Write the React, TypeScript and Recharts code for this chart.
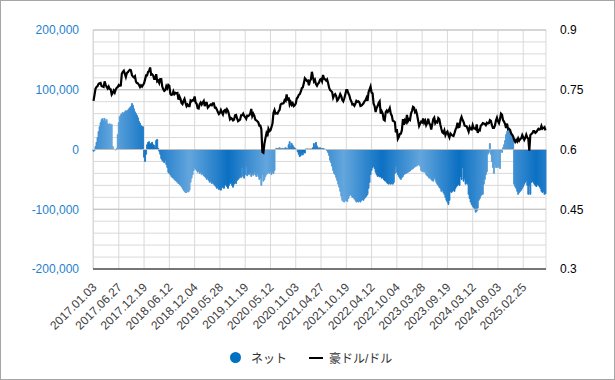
import {
  ComposedChart,
  Bar,
  Line,
  XAxis,
  YAxis,
  CartesianGrid,
  ReferenceLine,
} from "recharts";

// weekly AUD/USD close, 2017.01.03 onward (rows of 25 weeks = one tick interval)
const audUsd = [
  0.722, 0.737, 0.753, 0.757, 0.759, 0.765, 0.766, 0.767, 0.759, 0.758, 0.757, 0.771, 0.763, 0.757, 0.753, 0.758, 0.752, 0.751, 0.738, 0.742, 0.748, 0.743, 0.751, 0.755, 0.757,
  0.762, 0.76, 0.761, 0.79, 0.795, 0.798, 0.79, 0.782, 0.792, 0.794, 0.798, 0.8, 0.799, 0.787, 0.783, 0.781, 0.784, 0.77, 0.767, 0.766, 0.762, 0.757, 0.761, 0.758, 0.762,
  0.766, 0.776, 0.786, 0.786, 0.795, 0.797, 0.806, 0.788, 0.789, 0.786, 0.777, 0.777, 0.789, 0.771, 0.773, 0.767, 0.777, 0.777, 0.758, 0.751, 0.747, 0.749, 0.759, 0.754, 0.762,
  0.76, 0.74, 0.737, 0.738, 0.746, 0.739, 0.742, 0.741, 0.742, 0.725, 0.733, 0.727, 0.717, 0.714, 0.722, 0.727, 0.717, 0.709, 0.713, 0.709, 0.709, 0.723, 0.721, 0.724, 0.723,
  0.733, 0.718, 0.715, 0.704, 0.703, 0.714, 0.718, 0.713, 0.718, 0.722, 0.709, 0.717, 0.717, 0.705, 0.708, 0.711, 0.713, 0.711, 0.716, 0.716, 0.705, 0.705, 0.7, 0.694, 0.689,
  0.692, 0.699, 0.693, 0.688, 0.697, 0.699, 0.694, 0.701, 0.697, 0.688, 0.676, 0.679, 0.677, 0.673, 0.675, 0.686, 0.687, 0.678, 0.671, 0.673, 0.675, 0.686, 0.686, 0.69, 0.684,
  0.681, 0.677, 0.685, 0.684, 0.686, 0.69, 0.702, 0.684, 0.69, 0.685, 0.675, 0.673, 0.671, 0.668, 0.66, 0.66, 0.651, 0.594, 0.592, 0.614, 0.628, 0.64, 0.633, 0.652, 0.646,
  0.648, 0.656, 0.665, 0.692, 0.699, 0.69, 0.691, 0.69, 0.696, 0.699, 0.713, 0.715, 0.715, 0.716, 0.724, 0.722, 0.738, 0.723, 0.731, 0.713, 0.719, 0.712, 0.716, 0.709, 0.711,
  0.715, 0.728, 0.731, 0.737, 0.739, 0.745, 0.754, 0.756, 0.766, 0.779, 0.776, 0.772, 0.773, 0.761, 0.772, 0.776, 0.795, 0.782, 0.771, 0.775, 0.764, 0.76, 0.765, 0.768, 0.775,
  0.777, 0.771, 0.787, 0.778, 0.776, 0.773, 0.776, 0.767, 0.755, 0.749, 0.747, 0.744, 0.73, 0.736, 0.739, 0.734, 0.723, 0.726, 0.732, 0.739, 0.734, 0.725, 0.721, 0.728, 0.738,
  0.749, 0.749, 0.741, 0.736, 0.726, 0.721, 0.713, 0.714, 0.71, 0.715, 0.722, 0.72, 0.721, 0.718, 0.709, 0.71, 0.713, 0.716, 0.721, 0.724, 0.73, 0.722, 0.744, 0.751, 0.758,
  0.743, 0.741, 0.715, 0.709, 0.694, 0.704, 0.709, 0.717, 0.721, 0.69, 0.696, 0.69, 0.675, 0.673, 0.694, 0.698, 0.694, 0.698, 0.704, 0.69, 0.685, 0.672, 0.671, 0.669, 0.643,
  0.651, 0.627, 0.632, 0.639, 0.64, 0.649, 0.676, 0.662, 0.673, 0.669, 0.687, 0.671, 0.676, 0.674, 0.69, 0.697, 0.707, 0.705, 0.694, 0.697, 0.687, 0.673, 0.659, 0.665, 0.67,
  0.668, 0.678, 0.667, 0.672, 0.661, 0.666, 0.677, 0.666, 0.662, 0.65, 0.663, 0.676, 0.68, 0.666, 0.67, 0.668, 0.679, 0.676, 0.663, 0.652, 0.643, 0.641, 0.648, 0.636, 0.642,
  0.645, 0.636, 0.63, 0.64, 0.637, 0.635, 0.634, 0.641, 0.65, 0.655, 0.667, 0.656, 0.657, 0.675, 0.682, 0.674, 0.669, 0.66, 0.659, 0.658, 0.652, 0.645, 0.656, 0.651, 0.65,
  0.661, 0.653, 0.653, 0.651, 0.663, 0.642, 0.649, 0.648, 0.66, 0.662, 0.666, 0.665, 0.664, 0.661, 0.667, 0.665, 0.666, 0.674, 0.672, 0.661, 0.654, 0.654, 0.66, 0.673, 0.68,
  0.671, 0.666, 0.676, 0.69, 0.687, 0.674, 0.67, 0.664, 0.654, 0.665, 0.651, 0.652, 0.649, 0.64, 0.637, 0.633, 0.624, 0.619, 0.624, 0.62, 0.628, 0.622, 0.626, 0.628, 0.636,
  0.63, 0.624, 0.629, 0.637, 0.63, 0.627, 0.597, 0.636, 0.639, 0.641, 0.646, 0.646, 0.642, 0.644, 0.648, 0.652, 0.65, 0.651, 0.659, 0.652, 0.654, 0.656, 0.648,
];

// net positions (contracts), same weeks
const netPos = [
  -3000, -2000, 5000, 12000, 20000, 30000, 38000, 45000, 50000, 52000, 48000, 52000, 47000, 50000, 43000, 42000, 43000, 41000, 42000, 5000, 1000, 0, -1000, 2000, 25000,
  45000, 55000, 58000, 60000, 62000, 60000, 63000, 65000, 64000, 66000, 68000, 70000, 72000, 77000, 74000, 68000, 63000, 60000, 57000, 53000, 47000, 44000, 40000, 38000, 38000,
  -13000, -20000, -8000, 8000, 12000, 13000, 9000, 10000, 12000, 8000, 7000, 3000, 15000, 17000, 2000, -3000, -8000, -15000, -18000, -20000, -22000, -18000, -25000, -30000, -38000,
  -40000, -42000, -45000, -47000, -48000, -50000, -52000, -53000, -55000, -57000, -58000, -60000, -62000, -65000, -68000, -70000, -72000, -72000, -70000, -71000, -68000, -55000, -48000, -42000, -35000,
  -30000, -33000, -35000, -38000, -36000, -40000, -38000, -42000, -40000, -44000, -45000, -47000, -50000, -48000, -52000, -55000, -53000, -57000, -55000, -58000, -60000, -62000, -65000, -63000, -67000,
  -66000, -68000, -64000, -62000, -65000, -60000, -58000, -62000, -65000, -60000, -57000, -55000, -60000, -63000, -58000, -55000, -57000, -52000, -50000, -48000, -45000, -47000, -30000, -45000, -48000,
  -42000, -28000, -44000, -40000, -42000, -38000, -45000, -40000, -43000, -37000, -42000, -45000, -40000, -45000, -50000, -48000, -60000, -42000, -53000, -50000, -45000, -42000, -40000, -38000, -40000,
  -37000, -42000, -38000, -40000, -35000, 1000, 2000, 1500, 2000, 3000, 2000, 1000, 2000, 1000, 2000, 3000, 2000, 1000, 8000, 13000, 5000, 10000, 7000, 4000, 2000,
  1000, 0, -4000, -8000, -12000, -10000, -6000, -9000, -4000, -6000, 1000, 500, 1000, 0, 1000, 500, 1000, 3000, 10000, 4000, 12000, 6000, 3000, 2000, 3000,
  2000, 1000, 2000, 1000, 500, 0, -2000, -5000, -10000, -18000, -22000, -28000, -35000, -40000, -42000, -47000, -52000, -58000, -63000, -70000, -78000, -85000, -87000, -88000, -85000,
  -86000, -87000, -82000, -78000, -75000, -77000, -80000, -80000, -83000, -85000, -88000, -87000, -88000, -86000, -88000, -85000, -84000, -85000, -82000, -80000, -78000, -75000, -65000, -55000, -42000,
  -35000, -30000, -28000, -32000, -38000, -42000, -45000, -44000, -46000, -45000, -48000, -47000, -50000, -52000, -53000, -55000, -57000, -58000, -56000, -58000, -57000, -58000, -55000, -40000, -28000,
  -38000, -42000, -45000, -48000, -50000, -47000, -45000, -42000, -41000, -40000, -39000, -38000, -37000, -36000, -34000, -33000, -32000, -30000, -29000, -28000, -27000, -26000, -25000, -28000, -35000,
  -37000, -36000, -38000, -37000, -42000, -44000, -45000, -48000, -47000, -50000, -52000, -53000, -47000, -50000, -55000, -58000, -60000, -63000, -65000, -70000, -68000, -72000, -75000, -80000, -85000,
  -88000, -92000, -85000, -70000, -72000, -70000, -68000, -70000, -65000, -62000, -60000, -58000, -60000, -45000, -50000, -30000, -53000, -48000, -58000, -56000, -58000, -75000, -82000, -88000, -92000,
  -95000, -97000, -100000, -105000, -103000, -98000, -85000, -82000, -78000, -75000, -75000, -58000, -50000, -42000, -37000, -8000, -5000, 10000, -8000, -20000, -30000, -40000, -25000, -30000, -30000,
  -30000, -28000, -32000, -3000, -5000, 3000, 8000, 15000, 25000, 30000, 33000, 32000, 30000, 28000, 25000, 20000, -58000, -62000, -65000, -70000, -75000, -72000, -70000, -68000, -65000,
  -62000, -58000, -55000, -52000, -60000, -75000, -60000, -75000, -55000, -53000, -55000, -58000, -60000, -62000, -58000, -60000, -62000, -65000, -70000, -72000, -70000, -75000, -74000,
];

const START_DATE = "2017-01-03";

const leftTicks = [
  -200000, -180000, -160000, -140000, -120000, -100000, -80000, -60000, -40000, -20000,
  0, 20000, 40000, 60000, 80000, 100000, 120000, 140000, 160000, 180000, 200000,
];
const majorLines = [-100000, 0, 100000, 200000];
const rightTicks = [0.3, 0.45, 0.6, 0.75, 0.9];

const pad = (n: number) => String(n).padStart(2, "0");
const weekLabel = (i: number) => {
  const d = new Date(START_DATE + "T00:00:00Z");
  d.setUTCDate(d.getUTCDate() + i * 7);
  return `${d.getUTCFullYear()}.${pad(d.getUTCMonth() + 1)}.${pad(d.getUTCDate())}`;
};

const data = audUsd.map((v, i) => ({
  date: weekLabel(i),
  net: netPos[i],
  aud: v,
}));

const FONT = '"Liberation Sans", Arial, "Noto Sans CJK JP", sans-serif';

const DateTick = ({ x, y, payload }: any) => {
  const tx = x + 1;
  const ty = y + 8;
  return (
    <text
      x={tx}
      y={ty}
      transform={`rotate(-45, ${tx}, ${ty})`}
      textAnchor="end"
      dy="0.35em"
      fontSize={12}
      fill="#404040"
      fontFamily={FONT}
    >
      {payload.value}
    </text>
  );
};

const fmtLeft = (v: number) => (v % 100000 === 0 ? v.toLocaleString("en-US") : "");

const App = () => {
  return (
    <div
      style={{
        position: "absolute",
        left: 0,
        top: 0,
        width: 615,
        height: 380,
        boxSizing: "border-box",
        border: "1px solid #a6a6a6",
        background: "#fff",
        fontFamily: FONT,
      }}
    >
      <div style={{ position: "absolute", left: -1, top: -1 }}>
        <ComposedChart
          width={615}
          height={380}
          data={data}
          margin={{ top: 30, right: 9, left: 10, bottom: 41 }}
          barCategoryGap={0}
          barGap={0}
        >
          <defs>
            <linearGradient
              id="netFill"
              gradientUnits="userSpaceOnUse"
              x1={112.5}
              y1={0}
              x2={151}
              y2={0}
              spreadMethod="reflect"
            >
              <stop offset="0%" stopColor="#62a5dd" />
              <stop offset="100%" stopColor="#0a6fc2" />
            </linearGradient>
          </defs>
          <CartesianGrid yAxisId="left" stroke="#d9d9d9" />
          {majorLines.map((v) => (
            <ReferenceLine key={v} yAxisId="left" y={v} stroke="#bfbfbf" />
          ))}
          <XAxis
            dataKey="date"
            interval={24}
            tick={<DateTick />}
            tickLine={false}
            axisLine={{ stroke: "#000" }}
            height={70}
          />
          <YAxis
            yAxisId="left"
            domain={[-200000, 200000]}
            ticks={leftTicks}
            tickFormatter={fmtLeft}
            interval={0}
            axisLine={false}
            tickLine={false}
            width={83}
            tickMargin={8}
            tick={{ fill: "#1f7fd0", fontSize: 12, fontFamily: FONT }}
          />
          <YAxis
            yAxisId="right"
            orientation="right"
            domain={[0.3, 0.9]}
            ticks={rightTicks}
            axisLine={false}
            tickLine={false}
            width={60}
            tickMargin={8}
            tick={{ fill: "#000", fontSize: 12, fontFamily: FONT }}
          />
          <Bar
            yAxisId="left"
            dataKey="net"
            fill="url(#netFill)"
            stroke="url(#netFill)"
            strokeWidth={0.9}
            isAnimationActive={false}
          />
          <Line
            yAxisId="right"
            dataKey="aud"
            stroke="#000"
            strokeWidth={2.2}
            dot={false}
            isAnimationActive={false}
          />
        </ComposedChart>
      </div>
      <div
        style={{
          position: "absolute",
          left: 229,
          top: 348,
          display: "flex",
          alignItems: "center",
          fontSize: 12,
          color: "#333",
        }}
      >
        <span
          style={{
            width: 11,
            height: 11,
            borderRadius: "50%",
            background: "#0070c0",
            display: "inline-block",
            marginRight: 10,
          }}
        />
        <span style={{ marginRight: 22 }}>ネット</span>
        <span
          style={{
            width: 14,
            height: 2,
            background: "#000",
            display: "inline-block",
            marginRight: 6,
          }}
        />
        <span>豪ドル/ドル</span>
      </div>
    </div>
  );
};

export default App;
